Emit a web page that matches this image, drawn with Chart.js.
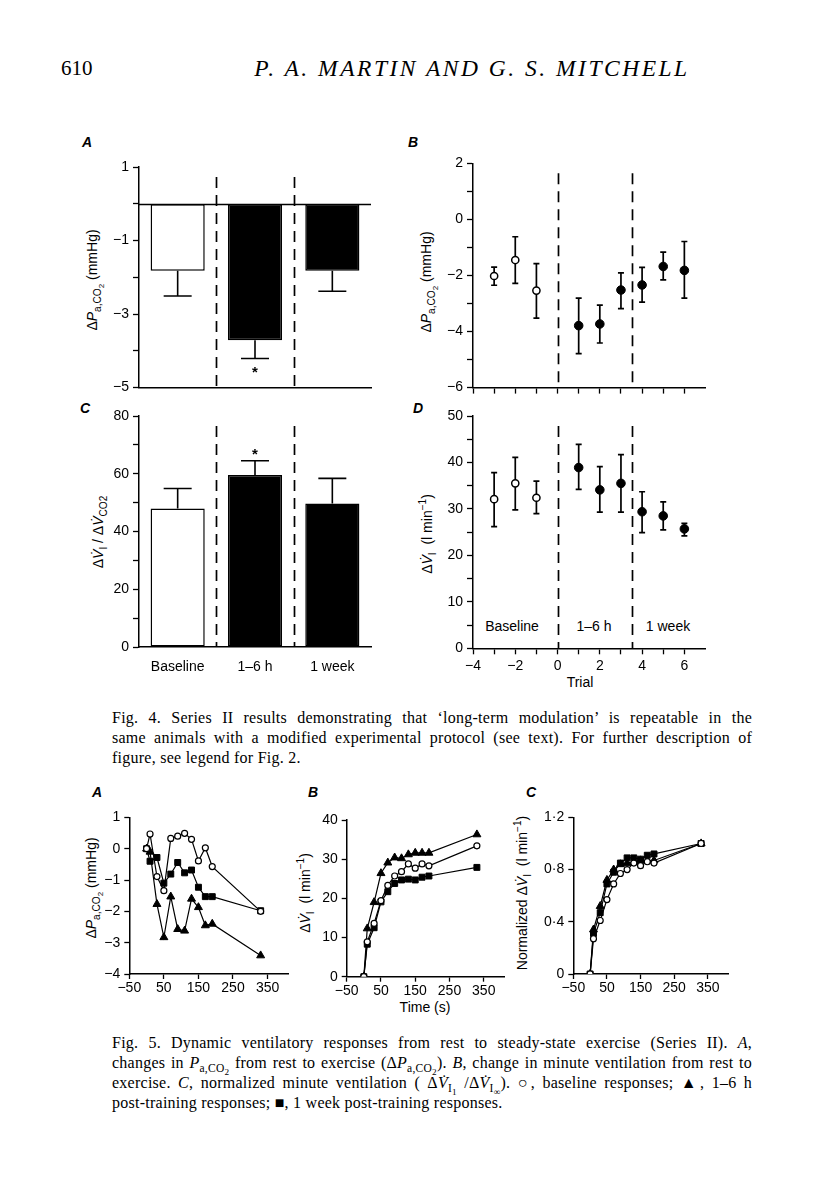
<!DOCTYPE html>
<html>
<head>
<meta charset="utf-8">
<script src="https://cdn.jsdelivr.net/npm/chart.js@4.4.1/dist/chart.umd.min.js"></script>
<style>
body { margin: 0; background: #fff; }
#page { position: relative; width: 816px; height: 1200px; background: #fff; color: #000;
        font-family: "Liberation Sans", Arial, sans-serif; overflow: hidden; }
canvas { position: absolute; }
.c { position: absolute; white-space: nowrap; font-size: 14px; transform: translate(-50%, -50%); }
.yt { position: absolute; white-space: nowrap; font-size: 14px; transform: translate(-50%, -50%) rotate(-90deg); }
.pl { position: absolute; font: italic bold 14px "Liberation Sans", Arial, sans-serif; transform: translate(-50%, -50%); }
sub, sup { font-size: 0.72em; line-height: 0; }
sub sub { font-size: 0.8em; }
.cap { position: absolute; left: 112px; width: 640px; font: 16px "Liberation Serif", "Times New Roman", serif;
       line-height: 20px; letter-spacing: 0.25px; }
.cap div { text-align: justify; text-align-last: justify; white-space: nowrap; }
.cap div.last { text-align-last: left; }
.head { position: absolute; font-family: "Liberation Serif", "Times New Roman", serif; white-space: nowrap; }
</style>
</head>
<body>
<div id="page">
  <div class="head" style="left:61px; top:68px; font-size:21px; transform:translateY(-50%);">610</div>
  <div class="head" style="left:472px; top:68px; font-size:23.5px; font-style:italic; letter-spacing:2.5px; transform:translate(-50%,-50%);">P. A. MARTIN AND G. S. MITCHELL</div>

  <div class="pl" style="left:87px; top:142px;">A</div>
  <div class="pl" style="left:413px; top:142px;">B</div>
  <div class="pl" style="left:85px; top:408px;">C</div>
  <div class="pl" style="left:418px; top:408px;">D</div>

  <div class="yt" style="left:93px; top:280px;">Δ<i>P</i><sub>a,CO<sub>2</sub></sub> (mmHg)</div>
  <div class="yt" style="left:98px; top:532px;">Δ<i>V̇</i><sub>I</sub> / Δ<i>V̇</i><sub>CO2</sub></div>
  <div class="yt" style="left:427px; top:282px;">Δ<i>P</i><sub>a,CO<sub>2</sub></sub> (mmHg)</div>
  <div class="yt" style="left:427px; top:534px;">Δ<i>V̇</i><sub>I</sub>&nbsp; (l min<sup>−1</sup>)</div>

  <div class="c" style="left:512px; top:626px;">Baseline</div>
  <div class="c" style="left:594px; top:626px;">1–6 h</div>
  <div class="c" style="left:668px; top:626px;">1 week</div>
  <div class="c" style="left:580px; top:682px;">Trial</div>

  <div class="cap" style="top:708px;">
    <div>Fig. 4. Series II results demonstrating that ‘long-term modulation’ is repeatable in the</div>
    <div>same animals with a modified experimental protocol (see text). For further description of</div>
    <div class="last">figure, see legend for Fig. 2.</div>
  </div>

  <div class="pl" style="left:97px; top:792px;">A</div>
  <div class="pl" style="left:313px; top:792px;">B</div>
  <div class="pl" style="left:531px; top:792px;">C</div>

  <div class="yt" style="left:92px; top:888px;">Δ<i>P</i><sub>a,CO<sub>2</sub></sub> (mmHg)</div>
  <div class="yt" style="left:305px; top:893px;">Δ<i>V̇</i><sub>I</sub>&nbsp; (l min<sup>−1</sup>)</div>
  <div class="yt" style="left:522px; top:893px;">Normalized Δ<i>V̇</i><sub>I</sub>&nbsp; (l min<sup>−1</sup>)</div>
  <div class="c" style="left:425px; top:1007px;">Time (s)</div>

  <div class="cap" style="top:1033px;">
    <div>Fig. 5. Dynamic ventilatory responses from rest to steady-state exercise (Series II). <i>A</i>,</div>
    <div>changes in <i>P</i><sub>a,CO<sub>2</sub></sub> from rest to exercise (Δ<i>P</i><sub>a,CO<sub>2</sub></sub>). <i>B</i>, change in minute ventilation from rest to</div>
    <div>exercise. <i>C</i>, normalized minute ventilation ( Δ<i>V̇</i><sub>I<sub>1</sub></sub> /Δ<i>V̇</i><sub>I<sub>∞</sub></sub>). ○, baseline responses; ▲, 1–6 h</div>
    <div class="last">post-training responses; ■, 1 week post-training responses.</div>
  </div>
</div>

<script>
// Fig. 4 A/C - group means, error bar ends
const groups = ["Baseline", "1–6 h", "1 week"];
const groupDividers = [0.5, 1.5];
const paco2Mean = [-1.82, -3.71, -1.82];
const paco2ErrEnd = [-2.51, -4.21, -2.38];
const ratioMean = [48.0, 59.6, 49.7];
const ratioErrEnd = [54.9, 64.5, 58.4];
const starGroup = 1;

// Fig. 4 B/D - per trial
const trialsBase = [-3, -2, -1];
const trialsPost = [1, 2, 3, 4, 5, 6];
const trialTicks = [-4, -3, -2, -1, 0, 1, 2, 3, 4, 5, 6];
const trialDividers = [0, 3.5];

const paBase = [-2.02, -1.45, -2.54];
const paBaseLo = [-2.35, -2.28, -3.52];
const paBaseHi = [-1.70, -0.62, -1.58];
const paPost = [-3.79, -3.73, -2.52, -2.34, -1.68, -1.82];
const paPostLo = [-4.79, -4.41, -3.18, -2.95, -2.16, -2.81];
const paPostHi = [-2.81, -3.06, -1.91, -1.71, -1.17, -0.79];

const viBase = [32.1, 35.5, 32.4];
const viBaseLo = [26.2, 29.8, 29.0];
const viBaseHi = [37.8, 41.1, 36.0];
const viPost = [38.9, 34.1, 35.5, 29.4, 28.5, 25.7];
const viPostLo = [34.2, 29.3, 29.3, 24.9, 25.5, 24.2];
const viPostHi = [43.9, 39.1, 41.7, 33.7, 31.5, 26.9];

// Fig. 5 - time courses
const times = [0, 10, 30, 50, 70, 90, 110, 130, 150, 170, 190, 330];
const timeTicks = [-50, 50, 150, 250, 350];

const dPaBaseline = [0, 0.47, -0.89, -1.34, 0.33, 0.40, 0.49, 0.30, -0.39, 0.03, -0.57, -2.0];
const dPaHours = [0, -0.10, -1.77, -2.83, -1.53, -2.57, -2.62, -1.60, -1.87, -2.45, -2.40, -3.41];
const dPaWeek = [0, -0.40, -0.28, -1.10, -0.81, -0.44, -0.77, -0.68, -1.23, -1.53, -1.53, -1.98];

const dViBaseline = [0, 8.9, 13.6, 19.4, 23.3, 25.7, 26.8, 28.8, 27.7, 28.8, 28.3, 33.4];
const dViHours = [0, 12.3, 19.0, 26.4, 29.1, 30.4, 30.2, 31.2, 31.6, 31.6, 31.6, 36.3];
const dViWeek = [0, 8.3, 12.5, 19.1, 21.7, 23.8, 24.7, 24.9, 24.7, 25.4, 25.7, 27.9];

const normBaseline = [0, 0.27, 0.41, 0.57, 0.69, 0.77, 0.80, 0.85, 0.83, 0.86, 0.85, 1.0];
const normHours = [0, 0.34, 0.52, 0.72, 0.80, 0.84, 0.85, 0.86, 0.87, 0.87, 0.87, 1.0];
const normWeek = [0, 0.31, 0.47, 0.69, 0.78, 0.85, 0.89, 0.89, 0.88, 0.91, 0.92, 1.0];


const INK = "#000";
const FONT = { family: "'Liberation Sans', Arial, sans-serif", size: 14 };

const minus = v => (v < 0 ? "\u2212" + Math.abs(v) : String(v));

// dashed dividers, zero line, error bars, stars
const extras = {
    id: "extras",
    beforeDatasetsDraw(chart, args, o) {
        const { ctx, chartArea: a, scales: { x, y } } = chart;
        ctx.save();
        ctx.strokeStyle = INK;

        if (o.zero !== undefined) {
            const py = Math.round(y.getPixelForValue(o.zero)) + 0.5;
            ctx.lineWidth = 1.5;
            ctx.beginPath();
            ctx.moveTo(a.left, py);
            ctx.lineTo(a.right, py);
            ctx.stroke();
        }

        (o.dividers || []).forEach(v => {
            const px = Math.round(x.getPixelForValue(v)) + 0.5;
            ctx.lineWidth = 1.7;
            ctx.setLineDash([11, 7]);
            ctx.beginPath();
            ctx.moveTo(px, a.top + 10);
            ctx.lineTo(px, a.bottom);
            ctx.stroke();
            ctx.setLineDash([]);
        });

        (o.errors || []).forEach(e => {
            ctx.lineWidth = e.width;
            e.x.forEach((xv, i) => {
                const px = x.getPixelForValue(xv);
                const p1 = y.getPixelForValue(e.lo[i]);
                const p2 = y.getPixelForValue(e.hi[i]);
                ctx.beginPath();
                ctx.moveTo(px, p1);
                ctx.lineTo(px, p2);
                const ends = e.bothCaps ? [p1, p2] : [p2];
                ends.forEach(p => {
                    ctx.moveTo(px - e.cap / 2, p);
                    ctx.lineTo(px + e.cap / 2, p);
                });
                ctx.stroke();
            });
        });
        ctx.restore();
    },
    afterDatasetsDraw(chart, args, o) {
        if (!o.star) return;
        const { ctx, scales: { x, y } } = chart;
        const s = o.star;
        ctx.save();
        ctx.fillStyle = INK;
        ctx.font = "bold 15px 'Liberation Sans', Arial, sans-serif";
        ctx.textAlign = "center";
        ctx.textBaseline = "middle";
        ctx.fillText("*", x.getPixelForValue(s.x), y.getPixelForValue(s.y) + s.dy);
        ctx.restore();
    }
};

function axis(o) {
    const ticks = {
        display: o.showLabels !== false,
        color: INK,
        font: FONT,
        padding: o.pad !== undefined ? o.pad : 4,
        maxRotation: 0,
        autoSkip: false
    };
    if (o.step) ticks.stepSize = o.step;
    if (o.label) ticks.callback = o.label;

    const a = {
        type: o.type || "linear",
        offset: !!o.offset,
        border: { color: INK, width: 1.5 },
        grid: {
            display: true,
            drawOnChartArea: false,
            drawTicks: o.drawTicks !== false,
            tickLength: o.tickLength || 6,
            tickColor: INK,
            tickWidth: 1.3
        },
        ticks: ticks
    };
    if (o.min !== undefined) a.min = o.min;
    if (o.max !== undefined) a.max = o.max;
    if (o.labels) a.labels = o.labels;
    if (o.tickValues) a.afterBuildTicks = s => { s.ticks = o.tickValues.map(v => ({ value: v })); };
    return a;
}

function panel(box, area, config) {
    const c = document.createElement("canvas");
    c.width = box.w;
    c.height = box.h;
    c.style.left = box.x + "px";
    c.style.top = box.y + "px";
    document.getElementById("page").appendChild(c);

    const opts = config.options;
    opts.responsive = false;
    opts.animation = false;
    opts.layout = {
        padding: { left: 0, top: area.y0 - box.y, right: box.x + box.w - area.x1, bottom: 0 }
    };
    opts.scales.x.afterFit = s => { s.height = box.y + box.h - area.y1; };
    opts.scales.y.afterFit = s => { s.width = area.x0 - box.x; };
    opts.plugins = Object.assign({ legend: { display: false }, tooltip: { enabled: false } }, opts.plugins);
    config.plugins = [extras];
    return new Chart(c, config);
}

const pts = (xs, ys) => xs.map((x, i) => ({ x: x, y: ys[i] }));

// ---------- Fig. 4 A ----------
panel({ x: 100, y: 150, w: 285, h: 250 }, { x0: 139, y0: 167, x1: 371, y1: 396 }, {
    type: "bar",
    data: {
        labels: groups,
        datasets: [{
            data: paco2Mean,
            backgroundColor: ["#fff", INK, INK],
            borderColor: INK,
            borderWidth: 1.5,
            borderSkipped: false,
            barPercentage: 0.7,
            categoryPercentage: 1
        }]
    },
    options: {
        scales: {
            x: axis({ type: "category", labels: groups, offset: true, drawTicks: false, showLabels: false }),
            y: axis({ min: -5, max: 1, step: 1, label: v => (Math.abs(v) % 2 === 1 ? minus(v) : "") })
        },
        plugins: {
            extras: {
                zero: 0,
                dividers: groupDividers,
                errors: [{ x: [0, 1, 2], lo: paco2Mean, hi: paco2ErrEnd, cap: 28, width: 1.6 }],
                star: { x: starGroup, y: paco2ErrEnd[starGroup], dy: 14 }
            }
        }
    }
});

// ---------- Fig. 4 C ----------
panel({ x: 100, y: 402, w: 290, h: 280 }, { x0: 139, y0: 416, x1: 371, y1: 647 }, {
    type: "bar",
    data: {
        labels: groups,
        datasets: [{
            data: ratioMean,
            backgroundColor: ["#fff", INK, INK],
            borderColor: INK,
            borderWidth: 1.5,
            borderSkipped: false,
            barPercentage: 0.7,
            categoryPercentage: 1
        }]
    },
    options: {
        scales: {
            x: axis({ type: "category", labels: groups, offset: true, drawTicks: false, pad: 12,
                label: (v, i) => groups[i] }),
            y: axis({ min: 0, max: 80, step: 10, label: v => (v % 20 === 0 ? String(v) : "") })
        },
        plugins: {
            extras: {
                dividers: groupDividers,
                errors: [{ x: [0, 1, 2], lo: ratioMean, hi: ratioErrEnd, cap: 28, width: 1.6 }],
                star: { x: starGroup, y: ratioErrEnd[starGroup], dy: -6 }
            }
        }
    }
});

// ---------- Fig. 4 B ----------
const openPt = { pointRadius: 3.6, pointBorderWidth: 1.5, pointBackgroundColor: "#fff", pointBorderColor: INK };
const fullPt = { pointRadius: 4.3, pointBorderWidth: 1, pointBackgroundColor: INK, pointBorderColor: INK };

panel({ x: 435, y: 150, w: 285, h: 250 }, { x0: 473, y0: 163.3, x1: 705.5, y1: 393.3 }, {
    type: "scatter",
    data: {
        datasets: [
            Object.assign({ data: pts(trialsBase, paBase) }, openPt),
            Object.assign({ data: pts(trialsPost, paPost) }, fullPt)
        ]
    },
    options: {
        scales: {
            x: axis({ min: -4, max: 7, tickValues: trialTicks, showLabels: false }),
            y: axis({ min: -6, max: 2, step: 1, label: v => (v % 2 === 0 ? minus(v) : "") })
        },
        plugins: {
            extras: {
                dividers: trialDividers,
                errors: [
                    { x: trialsBase, lo: paBaseLo, hi: paBaseHi, cap: 6, width: 1.7, bothCaps: true },
                    { x: trialsPost, lo: paPostLo, hi: paPostHi, cap: 6, width: 1.7, bothCaps: true }
                ]
            }
        }
    }
});

// ---------- Fig. 4 D ----------
panel({ x: 435, y: 402, w: 285, h: 280 }, { x0: 473, y0: 416, x1: 705.5, y1: 648.3 }, {
    type: "scatter",
    data: {
        datasets: [
            Object.assign({ data: pts(trialsBase, viBase) }, openPt),
            Object.assign({ data: pts(trialsPost, viPost) }, fullPt)
        ]
    },
    options: {
        scales: {
            x: axis({ min: -4, max: 7, tickValues: trialTicks, pad: 3, label: v => (v % 2 === 0 ? minus(v) : "") }),
            y: axis({ min: 0, max: 50, step: 5, label: v => (v % 10 === 0 ? String(v) : "") })
        },
        plugins: {
            extras: {
                dividers: trialDividers,
                errors: [
                    { x: trialsBase, lo: viBaseLo, hi: viBaseHi, cap: 6, width: 1.7, bothCaps: true },
                    { x: trialsPost, lo: viPostLo, hi: viPostHi, cap: 6, width: 1.7, bothCaps: true }
                ]
            }
        }
    }
});

// ---------- Fig. 5 ----------
const lineBase = { showLine: true, borderColor: INK, borderWidth: 1.2 };
const circleSet = ys => Object.assign({ data: pts(times, ys), pointStyle: "circle", pointRadius: 3,
    pointBorderWidth: 1.2, pointBackgroundColor: "#fff", pointBorderColor: INK }, lineBase);
const triSet = ys => Object.assign({ data: pts(times, ys), pointStyle: "triangle", pointRadius: 4.6,
    pointBorderWidth: 1, pointBackgroundColor: INK, pointBorderColor: INK }, lineBase);
const squareSet = ys => Object.assign({ data: pts(times, ys), pointStyle: "rect", pointRadius: 4.2,
    pointBorderWidth: 1, pointBackgroundColor: INK, pointBorderColor: INK }, lineBase);

const timeAxis = () => axis({ min: -50, max: 410, tickValues: timeTicks, tickLength: 5, pad: 1, label: v => minus(v) });

panel({ x: 95, y: 805, w: 210, h: 200 }, { x0: 129.3, y0: 817.3, x1: 288.3, y1: 974 }, {
    type: "scatter",
    data: { datasets: [circleSet(dPaBaseline), squareSet(dPaWeek), triSet(dPaHours)] },
    options: {
        scales: {
            x: timeAxis(),
            y: axis({ min: -4, max: 1, step: 1, tickLength: 5, label: v => minus(v) })
        }
    }
});

panel({ x: 310, y: 805, w: 210, h: 200 }, { x0: 346.7, y0: 820, x1: 504.3, y1: 976.7 }, {
    type: "scatter",
    data: { datasets: [circleSet(dViBaseline), squareSet(dViWeek), triSet(dViHours)] },
    options: {
        scales: {
            x: timeAxis(),
            y: axis({ min: 0, max: 40, step: 10, tickLength: 5, label: v => String(v) })
        }
    }
});

panel({ x: 530, y: 805, w: 215, h: 200 }, { x0: 573.3, y0: 817.3, x1: 728, y1: 974 }, {
    type: "scatter",
    data: { datasets: [circleSet(normBaseline), triSet(normHours), squareSet(normWeek)] },
    options: {
        scales: {
            x: timeAxis(),
            y: axis({ min: 0, max: 1.2, step: 0.4, tickLength: 5,
                label: v => (v === 0 ? "0" : (Math.round(v * 10) / 10).toFixed(1).replace(".", "\u00b7")) })
        }
    }
});
</script>
</body>
</html>
